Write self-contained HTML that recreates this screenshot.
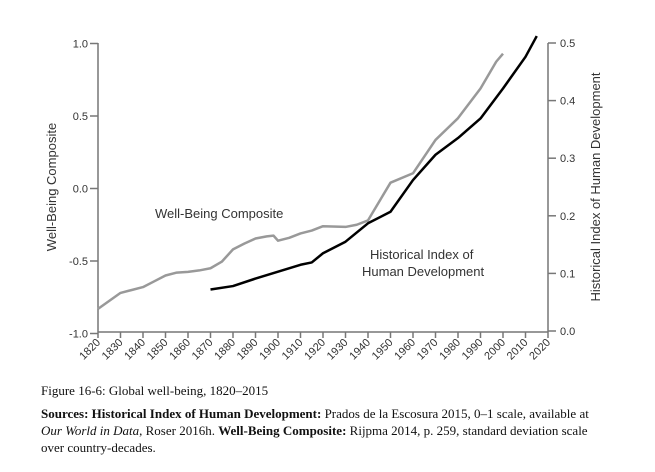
<!DOCTYPE html>
<html><head><meta charset="utf-8">
<style>
body{margin:0;background:#fff;width:655px;height:467px;overflow:hidden}
svg text{font-family:"Liberation Sans",sans-serif}
.cap{font-family:"Liberation Serif",serif;font-size:13px;fill:#111}
</style></head>
<body>
<svg id="chart" width="655" height="467">
<g id="axes"></g>
<g id="series"></g>
<text x="155" y="218" font-size="13" fill="#333">Well-Being Composite</text>
<text x="370" y="259" font-size="13" fill="#333">Historical Index of</text>
<text x="362" y="276" font-size="13" fill="#333">Human Development</text>
<text transform="translate(56,187) rotate(-90)" text-anchor="middle" font-size="13" fill="#333">Well-Being Composite</text>
<text transform="translate(600,187) rotate(-90)" text-anchor="middle" font-size="13" fill="#333">Historical Index of Human Development</text>
<text class="cap" x="41" y="395">Figure 16-6: Global well-being, 1820–2015</text>
<text class="cap" x="41" y="418"><tspan font-weight="bold">Sources: Historical Index of Human Development:</tspan> Prados de la Escosura 2015, 0–1 scale, available at</text>
<text class="cap" x="41" y="435"><tspan font-style="italic">Our World in Data</tspan>, Roser 2016h. <tspan font-weight="bold">Well-Being Composite:</tspan> Rijpma 2014, p. 259, standard deviation scale</text>
<text class="cap" x="41" y="452">over country-decades.</text>
</svg>
<script>
const wbYears=[1820,1830,1835,1840,1845,1850,1855,1860,1865,1870,1875,1880,1885,1890,1895,1898,1900,1905,1910,1915,1920,1930,1935,1940,1950,1960,1970,1980,1990,1997,2000];
const wbValues=[-0.83,-0.72,-0.70,-0.68,-0.64,-0.60,-0.58,-0.575,-0.565,-0.55,-0.505,-0.42,-0.38,-0.345,-0.33,-0.325,-0.36,-0.34,-0.31,-0.29,-0.26,-0.265,-0.25,-0.22,0.04,0.105,0.335,0.485,0.69,0.875,0.93];
const hdYears=[1870,1880,1890,1900,1910,1915,1920,1930,1940,1950,1960,1970,1980,1990,2000,2010,2015];
const hdValues=[0.072,0.078,0.091,0.103,0.115,0.119,0.135,0.155,0.187,0.207,0.262,0.306,0.335,0.369,0.421,0.476,0.512];
const xTicks=[1820,1830,1840,1850,1860,1870,1880,1890,1900,1910,1920,1930,1940,1950,1960,1970,1980,1990,2000,2010,2020];
const leftTicks=[-1.0,-0.5,0.0,0.5,1.0];
const rightTicks=[0.0,0.1,0.2,0.3,0.4,0.5];
const X0=98,X1=548;
const xs=y=>X0+(y-1820)/200*(X1-X0);
const yl=v=>188.5-v*145;
const yr=v=>331-v*576;
const NS='http://www.w3.org/2000/svg';
function mk(tag,attrs,parent){const e=document.createElementNS(NS,tag);for(const k in attrs)e.setAttribute(k,attrs[k]);parent.appendChild(e);return e;}
const ax=document.getElementById('axes'),se=document.getElementById('series');
const AC='#777';
let e;
e=mk('line',{x1:X0,y1:43,x2:X0,y2:332,stroke:AC,'stroke-width':1.5},ax);


e=mk('line',{x1:X1,y1:43,x2:X1,y2:332,stroke:AC,'stroke-width':1.5},ax);


e=mk('line',{x1:X0,y1:332,x2:X1,y2:332,stroke:AC,'stroke-width':1.5},ax);


leftTicks.forEach(v=>{
 const y=yl(v);
 mk('line',{x1:X0-8,y1:y,x2:X0,y2:y,stroke:AC,'stroke-width':1.5},ax);
 const t=mk('text',{x:X0-10,y:y+4,'text-anchor':'end','font-size':11,fill:'#333'},ax);
 t.textContent=v.toFixed(1);
 
 
});
rightTicks.forEach(v=>{
 const y=yr(v);
 mk('line',{x1:X1,y1:y,x2:X1+8,y2:y,stroke:AC,'stroke-width':1.5},ax);
 const t=mk('text',{x:X1+12,y:y+4,'font-size':11,fill:'#333'},ax);
 t.textContent=v.toFixed(1);
 
 
});
xTicks.forEach(yv=>{
 const x=xs(yv);
 mk('line',{x1:x,y1:332,x2:x,y2:338,stroke:AC,'stroke-width':1.5},ax);
 const t=mk('text',{transform:`translate(${x+3},${343}) rotate(-45)`,'text-anchor':'end','font-size':11,fill:'#333'},ax);
 t.textContent=yv;
 
 
});
let p=mk('polyline',{points:wbYears.map((y,i)=>xs(y)+','+yl(wbValues[i])).join(' '),fill:'none',stroke:'#999','stroke-width':2.5,'stroke-linejoin':'round'},se);


p=mk('polyline',{points:hdYears.map((y,i)=>xs(y)+','+yr(hdValues[i])).join(' '),fill:'none',stroke:'#000','stroke-width':2.5,'stroke-linejoin':'round'},se);


</script>
</body></html>
